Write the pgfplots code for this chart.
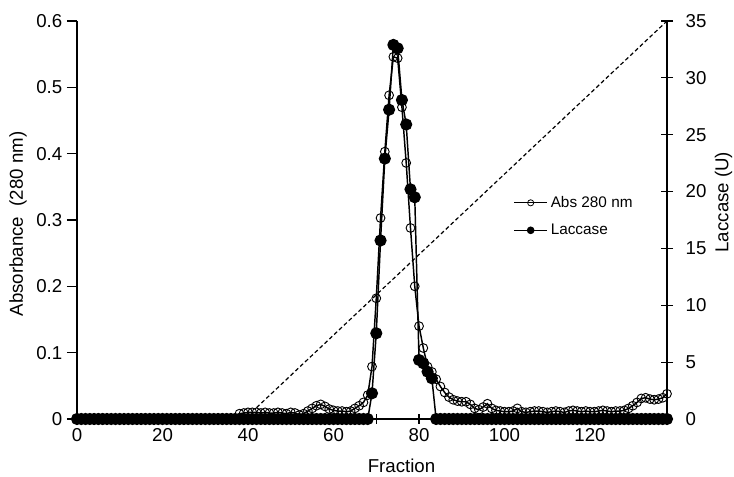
\documentclass[border=0pt]{standalone}
\usepackage{pgfplots}
\pgfplotsset{compat=1.18}
\usepackage{pgfplotstable}
\usepackage{fontspec}
\setmainfont{Liberation Sans}

\pgfplotstableread{
x y
0 0
1 0
2 0
3 0
4 0
5 0
6 0
7 0
8 0
9 0
10 0
11 0
12 0
13 0
14 0
15 0
16 0
17 0
18 0
19 0
20 0
21 0
22 0
23 0
24 0
25 0
26 0
27 0
28 0
29 0
30 0
31 0
32 0
33 0
34 0
35 0
36 0
37 0
38 0.008
39 0.009
40 0.010
41 0.010
42 0.010
43 0.009
44 0.010
45 0.009
46 0.009
47 0.010
48 0.009
49 0.008
50 0.010
51 0.009
52 0.006
53 0.008
54 0.012
55 0.016
56 0.020
57 0.022
58 0.019
59 0.015
60 0.013
61 0.012
62 0.012
63 0.011
64 0.012
65 0.016
66 0.020
67 0.025
68 0.036
69 0.079
70 0.182
71 0.303
72 0.403
73 0.488
74 0.546
75 0.544
76 0.470
77 0.386
78 0.288
79 0.200
80 0.140
81 0.107
82 0.079
83 0.071
84 0.060
85 0.049
86 0.040
87 0.033
88 0.029
89 0.027
90 0.026
91 0.026
92 0.022
93 0.016
94 0.014
95 0.018
96 0.023
97 0.016
98 0.013
99 0.012
100 0.011
101 0.011
102 0.012
103 0.016
104 0.011
105 0.010
106 0.011
107 0.012
108 0.012
109 0.011
110 0.010
111 0.011
112 0.012
113 0.011
114 0.010
115 0.012
116 0.013
117 0.012
118 0.011
119 0.012
120 0.011
121 0.011
122 0.012
123 0.013
124 0.012
125 0.011
126 0.012
127 0.012
128 0.013
129 0.016
130 0.020
131 0.025
132 0.031
133 0.032
134 0.030
135 0.029
136 0.030
137 0.032
138 0.038
}\absdata

\pgfplotstableread{
x y
0 0
1 0
2 0
3 0
4 0
5 0
6 0
7 0
8 0
9 0
10 0
11 0
12 0
13 0
14 0
15 0
16 0
17 0
18 0
19 0
20 0
21 0
22 0
23 0
24 0
25 0
26 0
27 0
28 0
29 0
30 0
31 0
32 0
33 0
34 0
35 0
36 0
37 0
38 0
39 0
40 0
41 0
42 0
43 0
44 0
45 0
46 0
47 0
48 0
49 0
50 0
51 0
52 0
53 0
54 0
55 0
56 0
57 0
58 0
59 0
60 0
61 0
62 0
63 0
64 0
65 0
66 0
67 0
68 0
69 2.26
70 7.54
71 15.7
72 22.9
73 27.2
74 32.9
75 32.6
76 28.05
77 25.9
78 20.2
79 19.5
80 5.19
81 4.9
82 4.16
83 3.58
84 0
85 0
86 0
87 0
88 0
89 0
90 0
91 0
92 0
93 0
94 0
95 0
96 0
97 0
98 0
99 0
100 0
101 0
102 0
103 0
104 0
105 0
106 0
107 0
108 0
109 0
110 0
111 0
112 0
113 0
114 0
115 0
116 0
117 0
118 0
119 0
120 0
121 0
122 0
123 0
124 0
125 0
126 0
127 0
128 0
129 0
130 0
131 0
132 0
133 0
134 0
135 0
136 0
137 0
138 0
}\lacdata

\pgfplotstableread{
x y
42 1
138 35
}\graddata

\pgfplotsset{
  common/.style={
    scale only axis, width=442.5pt, height=298.5pt,
    xmin=0, xmax=138, clip=false,
    axis line style={line width=1pt, black},
    tick style={line width=0.9pt, black},
    tick label style={font=\fontsize{14}{16}\selectfont},
    label style={font=\fontsize{14}{16}\selectfont},
    /pgf/number format/assume math mode=true,
  },
}

\begin{document}
\begin{tikzpicture}
\begin{axis}[common, name=ax,
  ymin=0, ymax=0.6,
  axis x line*=bottom, axis y line*=left,
  xtick={0,20,...,120}, minor xtick={10,30,...,130},
  xtick align=center, major tick length=7.5pt, minor tick length=7.5pt,
  ytick={0,0.1,0.2,0.3,0.4,0.5,0.6},
  yticklabels={0,0.1,0.2,0.3,0.4,0.5,0.6},
  ytick align=outside,
  xlabel={Fraction},
  ylabel={Absorbance~ (280 nm)},
  xlabel style={at={(axis description cs:0.55,-0.118)}, anchor=center},
  ylabel style={at={(axis description cs:-0.1,0.49)}, anchor=center},
]
\addplot[black, line width=1.1pt, mark=o, mark size=3.3pt, mark options={line width=0.7pt, fill=none, solid}] table[x=x,y=y] {\absdata};
\end{axis}

\begin{axis}[common,
  ymin=0, ymax=35,
  axis x line=none, axis y line*=right,
  ytick={0,5,...,35},
  ytick align=center, major tick length=9pt,
  yticklabel style={xshift=6pt},
  ylabel={Laccase (U)},
  ylabel style={at={(axis description cs:1.096,0.545)}, anchor=center},
  legend style={at={(axis description cs:0.739,0.567)}, anchor=north west, draw=none, fill=none,
    font=\fontsize{11.5}{13}\selectfont, row sep=7pt, inner sep=0pt},
  legend cell align=left,
  legend image code/.code={\draw[mark repeat=2,mark phase=2,#1,mark size=2.3pt] plot coordinates {(0pt,0pt)(12.5pt,0pt)(25pt,0pt)};},
]
\addplot[black, line width=0.9pt, dash pattern=on 3pt off 2pt, forget plot] table[x=x,y=y] {\graddata};
\addlegendimage{black, line width=1pt, mark=o, mark options={line width=0.6pt,fill=none}}
\addlegendentry{Abs 280 nm}
\addplot[black, line width=1.1pt, mark=*, mark size=4pt] table[x=x,y=y] {\lacdata};
\addlegendentry{Laccase}
\end{axis}
\pgfresetboundingbox
\path ([xshift=-57.75pt, yshift=-43.5pt]ax.south west) rectangle ([xshift=50.25pt, yshift=15.75pt]ax.north east);
\end{tikzpicture}
\end{document}
